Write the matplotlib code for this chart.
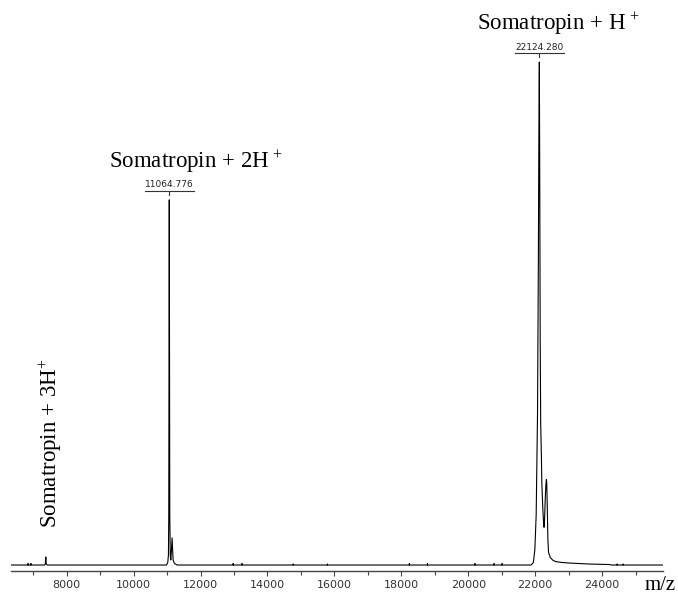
import numpy as np
import matplotlib
matplotlib.use("Agg")
import matplotlib.pyplot as plt
from matplotlib.ticker import MultipleLocator
from matplotlib.transforms import offset_copy

# spectrum (m/z, relative intensity)
mz = [6350, 6840, 6845, 6850, 6925, 6930, 6935,
      7340, 7360, 7375, 7385, 7400, 7420,
      10980, 11020, 11040, 11050, 11058, 11064.8, 11072, 11080, 11095, 11110,
      11130, 11150, 11165, 11180, 11220, 11300,
      12970, 12975, 12980, 13235, 13240, 13245, 14765, 14770, 14775,
      15785, 15790, 15795, 18235, 18240, 18245, 18775, 18780, 18785,
      20195, 20200, 20205, 20765, 20770, 20775, 21005, 21010, 21015,
      21880, 21945, 21990, 22030, 22070, 22095, 22110, 22124.3, 22135, 22150,
      22165, 22185, 22200, 22230, 22250, 22265, 22280, 22300, 22320, 22335,
      22345, 22360, 22380, 22400, 22450, 22520, 22600, 22800, 23000, 23300,
      23600, 24200, 24300,
      24445, 24450, 24455, 24625, 24630, 24635, 25820]
intensity = [0, 0, 0.003, 0, 0, 0.003, 0,
             0, 0.002, 0.016, 0.003, 0.001, 0,
             0, 0.005, 0.02, 0.1, 0.44, 0.726, 0.44, 0.1, 0.02, 0.01,
             0.03, 0.054, 0.03, 0.01, 0.003, 0,
             0, 0.003, 0, 0, 0.003, 0, 0, 0.002, 0,
             0, 0.002, 0, 0, 0.003, 0, 0, 0.003, 0,
             0, 0.003, 0, 0, 0.003, 0, 0, 0.003, 0,
             0, 0.005, 0.03, 0.1, 0.3, 0.6, 0.85, 1.0, 0.8, 0.45,
             0.28, 0.22, 0.16, 0.11, 0.085, 0.075, 0.09, 0.13, 0.16, 0.17,
             0.165, 0.12, 0.05, 0.025, 0.015, 0.01, 0.007, 0.005, 0.004, 0.003,
             0.002, 0.001, 0,
             0, 0.002, 0, 0, 0.002, 0, 0]

# labelled peaks
peak_mz = [11064.776, 22124.280]
peak_int = [0.726, 1.0]
peak_names = ["Somatropin + 2H$^{\\,+}$", "Somatropin + H$^{\\,+}$"]
name_shift = [800, 550]   # label centre relative to the peak, in m/z
small_mz = 7375
small_name = "Somatropin + 3H$^{+}$"

plt.rcParams['mathtext.fontset'] = 'custom'
plt.rcParams['mathtext.rm'] = 'Liberation Serif'
plt.rcParams['mathtext.it'] = 'Liberation Serif:italic'

fig = plt.figure(figsize=(6.78, 5.99), dpi=100)
ax = fig.add_axes([11 / 678, 28 / 599, 652 / 678, 551 / 599])

ax.plot(mz, intensity, color='black', lw=0.8)

ax.set_xlim(6335, 25820)
ax.set_ylim(-0.0119, 1.0835)

for s in ['top', 'right', 'left']:
    ax.spines[s].set_visible(False)
ax.spines['bottom'].set_color('#444444')
ax.spines['bottom'].set_linewidth(1.0)
ax.set_yticks([])
ax.xaxis.set_major_locator(MultipleLocator(2000))
ax.xaxis.set_minor_locator(MultipleLocator(1000))
ax.tick_params(axis='x', which='major', length=3.5, width=0.8, color='#444444',
               labelsize=8, labelcolor='#333333', pad=3)
ax.tick_params(axis='x', which='minor', length=3, width=0.8, color='#444444')
for lbl in ax.get_xticklabels():
    lbl.set_family('DejaVu Sans')

fig.text(660 / 678, 1 - 586 / 599, "m/z", family='Liberation Serif', fontsize=15,
         ha='center', va='center')

# peak annotations: number, underline, small tick, name
for x, y, name, dx in zip(peak_mz, peak_int, peak_names, name_shift):
    tr_num = offset_copy(ax.transData, fig=fig, x=0, y=7.5, units='points')
    ax.text(x, y, f"{x:.3f}", transform=tr_num, ha='center', va='bottom',
            fontsize=6.5, family='DejaVu Sans', color='#222222')
    tr_ul = offset_copy(ax.transData, fig=fig, x=0, y=6.5, units='points')
    ax.plot([x - 740, x + 740], [y, y], transform=tr_ul, color='#333333', lw=0.8)
    tr_t0 = offset_copy(ax.transData, fig=fig, x=0, y=3.6, units='points')
    ax.plot([x, x], [y, y + 0.006], transform=tr_t0, color='#333333', lw=0.8)
    tr_name = offset_copy(ax.transData, fig=fig, x=0, y=23, units='points')
    ax.text(x + dx, y, name, transform=tr_name, ha='center', va='baseline',
            fontsize=16.5, family='Liberation Serif')

ax.text(small_mz + 150, 0.074, small_name, rotation=90, ha='center', va='bottom',
        fontsize=16.5, family='Liberation Serif')

fig.savefig('out.png', dpi=100)
